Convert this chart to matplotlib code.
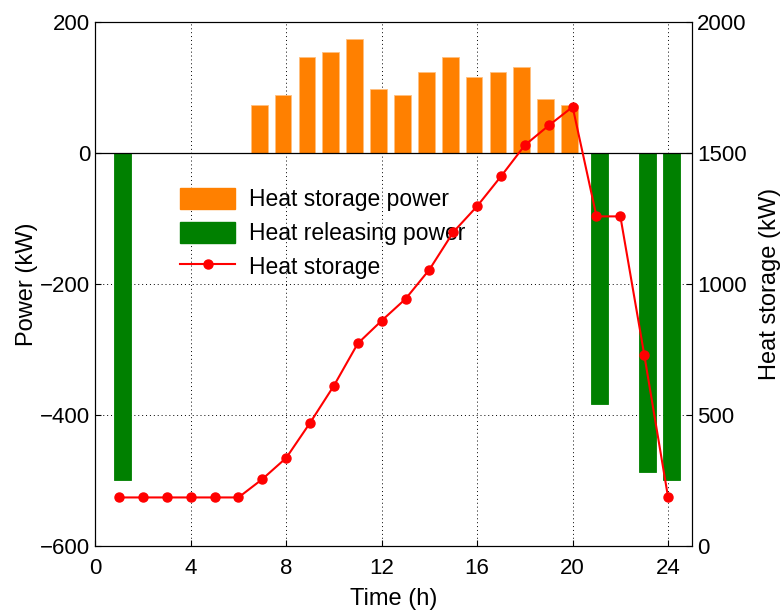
import numpy as np
import matplotlib.pyplot as plt
from matplotlib.patches import Patch
from matplotlib.lines import Line2D

plt.rcParams["font.family"] = ["Liberation Sans", "DejaVu Sans"]

hours = np.arange(1, 25)
store_hours = np.arange(7, 21)
store_power = [74, 89, 147, 154, 174, 97, 89, 123, 147, 116, 123, 131, 82, 74]
release_hours = [1, 21, 23, 24]
release_power = [-500, -383, -487, -500]
heat_storage = [185, 185, 185, 185, 185, 185, 255, 336, 470, 612, 773, 860,
                943, 1055, 1198, 1297, 1411, 1530, 1605, 1676, 1258, 1258, 730, 185]

ORANGE = "#ff8000"
GREEN = "#008000"
RED = "#ff0000"

fig = plt.figure(figsize=(7.81, 6.12), dpi=100)
ax = fig.add_axes([0.122, 0.108, 0.764, 0.856])

ax.bar(store_hours - 0.13, store_power, width=0.7, color=ORANGE,
       edgecolor="#ffc080", linewidth=0.6, zorder=2)
ax.bar(np.array(release_hours) + 0.13, release_power, width=0.7, color=GREEN,
       edgecolor=GREEN, linewidth=0.6, zorder=2)
ax.axhline(0, color="black", linewidth=0.9, zorder=3)

ax.set_xlim(0, 25)
ax.set_ylim(-600, 200)
ax.set_xticks(np.arange(0, 25, 4))
ax.set_yticks(np.arange(-600, 201, 200))
ax.grid(True, color="black", linestyle=(0, (1, 3)), linewidth=0.7)
ax.set_axisbelow(True)
ax.tick_params(direction="in", labelsize=16, length=4)
ax.tick_params(axis="x", pad=9)
ax.set_xlabel("Time (h)", fontsize=17, labelpad=6)
ax.set_ylabel("Power (kW)", fontsize=17, labelpad=2)

# legend on the first axes so the storage line is drawn over it
handles = [
    Patch(facecolor=ORANGE, edgecolor=ORANGE),
    Patch(facecolor=GREEN, edgecolor=GREEN),
    Line2D([0], [0], color=RED, linewidth=1.5, marker="o", markersize=6.5),
]
labels = ["Heat storage power", "Heat releasing power", "Heat storage"]
ax.legend(handles, labels, loc="upper left", bbox_to_anchor=(0.123, 0.705),
          frameon=False, fontsize=16.5, handlelength=2.4, handleheight=1.05,
          labelspacing=0.44, handletextpad=0.6, borderpad=0)

ax2 = ax.twinx()
ax2.plot(hours, heat_storage, color=RED, linewidth=1.5, marker="o",
         markersize=6.5, zorder=4)
ax2.set_ylim(0, 2000)
ax2.set_yticks(np.arange(0, 2001, 500))
ax2.tick_params(direction="in", labelsize=16, length=4)
ax2.set_ylabel("Heat storage (kW)", fontsize=17, labelpad=9)

fig.savefig("out.png", dpi=100)
